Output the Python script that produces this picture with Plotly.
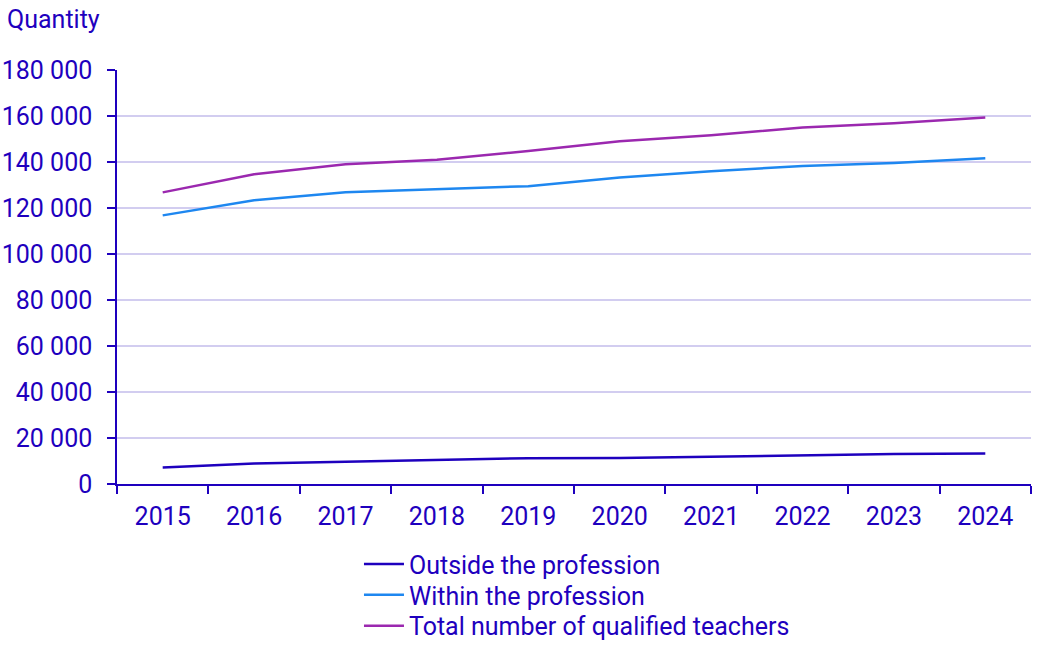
import plotly.graph_objects as go

years = ["2015", "2016", "2017", "2018", "2019", "2020", "2021", "2022", "2023", "2024"]
outside = [7200, 8900, 9700, 10400, 11200, 11300, 11900, 12700, 13000, 13300]
within = [116800, 123400, 126800, 128100, 129500, 133300, 136000, 138300, 139600, 141600]
total = [126800, 134700, 139000, 141000, 144800, 149000, 151600, 155000, 156800, 159400]

text_color = "#1e00be"
grid_color = "#d2cdf0"
font_size = 25

fig = go.Figure()
fig.add_trace(go.Scatter(x=years, y=outside, mode="lines", name="Outside the profession",
                         line={"color": "#1e00be", "width": 2.5}, legend="legend"))
fig.add_trace(go.Scatter(x=years, y=within, mode="lines", name="Within the profession",
                         line={"color": "#1e87f0", "width": 2.5}, legend="legend2"))
fig.add_trace(go.Scatter(x=years, y=total, mode="lines", name="Total number of qualified teachers",
                         line={"color": "#9b28af", "width": 2.5}, legend="legend3"))


# one legend per row so the row spacing matches the original
def legend_at(y):
    return {
        "xref": "container",
        "yref": "container",
        "x": 0.3377,
        "y": y,
        "xanchor": "left",
        "yanchor": "middle",
        "font": {"size": font_size, "color": text_color},
        "itemwidth": 40,
        "bgcolor": "rgba(0,0,0,0)",
    }


fig.update_layout(
    width=1063,
    height=650,
    showlegend=True,
    plot_bgcolor="white",
    paper_bgcolor="white",
    font={"family": "Roboto", "size": font_size, "color": text_color},
    separators=". ",
    margin={"l": 117, "r": 32, "t": 70, "b": 166, "autoexpand": False},
    legend=legend_at(0.132),
    legend2=legend_at(0.0846),
    legend3=legend_at(0.037),
    annotations=[{
        "text": "Quantity",
        "xref": "paper", "yref": "paper",
        "x": -0.1225, "y": 1.1208,
        "xanchor": "left", "yanchor": "middle",
        "showarrow": False,
        "font": {"size": font_size, "color": text_color},
    }],
)
fig.update_xaxes(
    type="category",
    tickson="boundaries",
    ticks="outside",
    ticklen=8,
    tickwidth=1.5,
    tickcolor=text_color,
    ticklabelstandoff=9,
    showline=True,
    linecolor=text_color,
    linewidth=1.5,
    showgrid=False,
    automargin=False,
    range=[-0.5, 9.5],
)
fig.update_yaxes(
    range=[0, 180000],
    dtick=20000,
    tickformat=",d",
    ticks="outside",
    ticklen=8,
    tickwidth=1.5,
    tickcolor=text_color,
    ticklabelstandoff=10,
    showline=True,
    linecolor=text_color,
    linewidth=1.5,
    gridcolor=grid_color,
    gridwidth=1.5,
    zeroline=False,
    automargin=False,
)

# drop the default 8px body margin so the figure fills the window
fig.write_html(
    "out.html",
    config={"displayModeBar": False},
    post_script="document.body.style.margin = '0';",
)
